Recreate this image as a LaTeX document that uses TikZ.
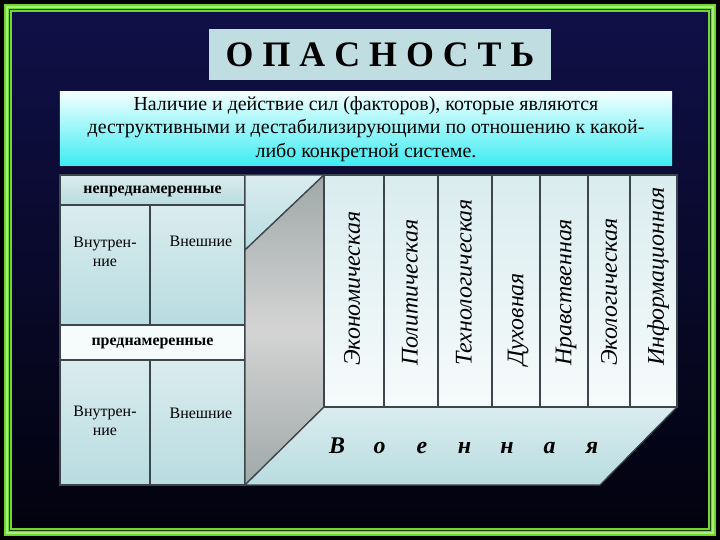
\documentclass[tikz,border=0pt]{standalone}
\usepackage{fontspec}
\setmainfont{Liberation Serif}
\usetikzlibrary{positioning}

\definecolor{framegreen}{RGB}{110,215,50}
\definecolor{framepale}{RGB}{170,240,120}
\definecolor{bgtop}{RGB}{16,16,72}
\definecolor{bgbot}{RGB}{2,2,14}
\definecolor{titlefill}{RGB}{192,222,226}
\definecolor{desctop}{RGB}{242,255,255}
\definecolor{descbot}{RGB}{60,236,242}
\definecolor{celltop}{RGB}{218,236,239}
\definecolor{cellbot}{RGB}{184,220,224}
\definecolor{cellwhite}{RGB}{246,251,251}
\definecolor{gridline}{RGB}{60,70,76}
\definecolor{faceedge}{RGB}{160,168,168}
\definecolor{facemid}{RGB}{212,212,212}

\begin{document}
\begin{tikzpicture}[
    x=1bp, y=-1bp,
    cell/.style={draw=gridline, line width=1.3bp, top color=celltop, bottom color=cellbot},
    cellw/.style={draw=gridline, line width=1.3bp, fill=cellwhite},
    kind/.style={font=\fontsize{16}{19.5}\selectfont, align=center, text=black},
    head/.style={font=\fontsize{16}{19}\selectfont\bfseries, text=black},
    branch/.style={font=\fontsize{24}{28}\selectfont\itshape, rotate=90, anchor=west, inner sep=0pt},
    letter/.style={font=\fontsize{24}{28}\selectfont\bfseries\itshape, inner sep=0pt, anchor=base}
]
   \useasboundingbox (0,0) rectangle (720,540);
   \fill[black] (0,0) rectangle (720,540);

   % Frame
   \shade[top color=bgtop, bottom color=bgbot] (12,12) rectangle (708,528);
   \draw[framegreen, line width=8bp] (8,8) rectangle (712,532);
   \draw[framepale, line width=1.6bp] (7,7) rectangle (713,533);
   \draw[black!70!framegreen, line width=1bp] (9.8,9.8) rectangle (710.2,530.2);

   % Title and definition
   \node[fill=titlefill, minimum width=342bp, minimum height=51bp, inner sep=0pt,
         font=\fontsize{36}{40}\selectfont\bfseries] (title) at (380,54.5) {О П А С Н О С Т Ь};
   \node[top color=desctop, bottom color=descbot, minimum width=612bp, minimum height=74bp,
         inner sep=0pt, align=center, font=\fontsize{20}{23.5}\selectfont] (def) at (366,129)
         {Наличие и действие сил (факторов), которые являются\\
          деструктивными и дестабилизирующими по отношению к какой-\\
          либо конкретной системе.};

   % Left table
   \draw[cell] (60,175) rectangle (245,205);
   \draw[cell] (60,205) rectangle (150,325);
   \draw[cell] (150,205) rectangle (245,325);
   \draw[cellw] (60,325) rectangle (245,360);
   \draw[cell] (60,360) rectangle (150,485);
   \draw[cell] (150,360) rectangle (245,485);
   \node[head] (unint) at (152.5,191) {непреднамеренные};
   \node[kind] (unin) at (105,252) {Внутрен-\\ние};
   \node[kind] (unout) at (201,241) {Внешние};
   \node[head] (int) at (152.5,343) {преднамеренные};
   \node[kind] (inin) at (105,421) {Внутрен-\\ние};
   \node[kind] (inout) at (201,413) {Внешние};

   % Box: back, side face, floor
   \coordinate (bl) at (245,485);
   \coordinate (tl) at (245,175);
   \coordinate (ml) at (245,250);
   \coordinate (ci) at (324,175);
   \coordinate (cb) at (324,407);
   \coordinate (rt) at (677,175);
   \coordinate (rb) at (677,407);
   \coordinate (fr) at (600,485);
   \draw[cell] (tl) -- (ci) -- (ml) -- cycle;
   \shade[top color=faceedge, bottom color=faceedge, middle color=facemid]
         (ml) -- (ci) -- (cb) -- (bl) -- cycle;
   \draw[gridline, line width=1.3bp] (ml) -- (ci) -- (cb) -- (bl) -- cycle;
   \draw[cell] (cb) -- (rb) -- (fr) -- (bl) -- cycle;

   % Columns
   \foreach \xa/\xb in {324/384, 384/438, 438/492, 492/540, 540/588, 588/630, 630/677}
      \draw[cell, top color=celltop, bottom color=cellwhite] (\xa,175) rectangle (\xb,407);

   \node[branch] (econ) at (352,366) {Экономическая};
   \node[branch] (polit) at (410,366) {Политическая};
   \node[branch] (tech) at (464,366) {Технологическая};
   \node[branch] (spirit) at (518,366) {Духовная};
   \node[branch] (moral) at (566,366) {Нравственная};
   \node[branch] (ecol) at (609,366) {Экологическая};
   \node[branch] (info) at (658,366) {Информационная};

   % Military
   \foreach \ch [count=\i] in {В,о,е,н,н,а,я}
      \node[letter] (mil\i) at ({337+42.5*(\i-1)},453) {\ch};
\end{tikzpicture}
\end{document}
